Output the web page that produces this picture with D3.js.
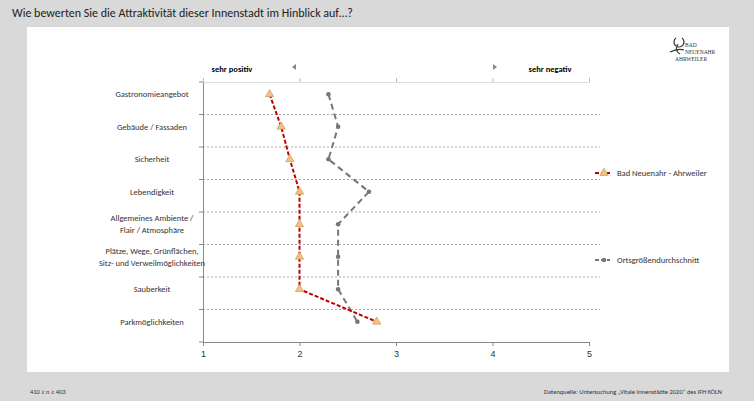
<!DOCTYPE html><html><head><meta charset="utf-8"><script src="https://cdn.jsdelivr.net/npm/d3@7"></script>
<style>body{margin:0;background:#d9d9d9}svg{font-family:Calibri,"Liberation Sans",Arial,sans-serif}</style></head><body><svg width="754" height="401"></svg><script>
const categories=["Gastronomieangebot","Gebäude / Fassaden","Sicherheit","Lebendigkeit","Allgemeines Ambiente / Flair / Atmosphäre","Plätze, Wege, Grünflächen, Sitz- und Verweilmöglichkeiten","Sauberkeit","Parkmöglichkeiten"];
const catLines=[["Gastronomieangebot"],["Gebäude / Fassaden"],["Sicherheit"],["Lebendigkeit"],["Allgemeines Ambiente /","Flair / Atmosphäre"],["Plätze, Wege, Grünflächen,","Sitz- und Verweilmöglichkeiten"],["Sauberkeit"],["Parkmöglichkeiten"]];
const badNeuenahr=[1.69,1.81,1.9,2.0,2.0,2.0,2.0,2.8];
const ortsgroesse=[2.3,2.4,2.3,2.72,2.4,2.4,2.4,2.6];
const xTicks=[1,2,3,4,5];
const svg=d3.select("svg");
svg.append("rect").attr("x",27).attr("y",27).attr("width",702).attr("height",345).attr("fill","#fff");
svg.append("text").attr("x",12).attr("y",17).attr("font-size",12).attr("fill","#222").text("Wie bewerten Sie die Attraktivität dieser Innenstadt im Hinblick auf…?");
const x=d3.scaleLinear().domain([1,5]).range([203,589]);
const y=d3.scaleBand().domain(categories).range([82,342]);
categories.slice(1).forEach(c=>svg.append("line").attr("x1",203).attr("x2",600).attr("y1",y(c)).attr("y2",y(c)).attr("stroke","#aaa").attr("stroke-dasharray","2,2"));
const gx=svg.append("g").attr("transform","translate(0,342)").call(d3.axisBottom(x).tickValues(xTicks).tickSize(4).tickFormat(d3.format("d")));
gx.select(".domain").attr("stroke","#888");gx.selectAll("line").attr("stroke","#888");gx.selectAll("text").attr("font-size",9).attr("dy","0.9em").attr("fill","#333");
const gt=svg.append("g").attr("transform","translate(0,82)").call(d3.axisTop(x).tickValues(xTicks).tickSize(4).tickFormat(""));
gt.select(".domain").attr("stroke","#ddd");gt.selectAll("line").attr("stroke","#bbb");
const gy=svg.append("g").attr("transform","translate(203,0)").call(d3.axisLeft(y).tickSize(0).tickFormat(""));
gy.select(".domain").attr("stroke","#888");
[82,...categories.slice(1).map(c=>y(c)),342].forEach(v=>svg.append("line").attr("x1",199).attr("x2",203).attr("y1",v).attr("y2",v).attr("stroke","#888"));
catLines.forEach((ls,i)=>{const cy=y(categories[i])+y.bandwidth()/2;ls.forEach((l,j)=>svg.append("text").attr("x",152).attr("y",cy-4+(j-(ls.length-1)/2)*12+3).attr("text-anchor","middle").attr("font-size",8.5).attr("fill","#333").text(l));});
svg.append("text").attr("x",232).attr("y",72).attr("text-anchor","middle").attr("font-size",8.5).attr("font-weight","bold").text("sehr positiv");
svg.append("text").attr("x",550).attr("y",72).attr("text-anchor","middle").attr("font-size",8.5).attr("font-weight","bold").text("sehr negativ");
svg.append("path").attr("d","M292,67 l4,-3 v6z").attr("fill","#888");
svg.append("path").attr("d","M497,67 l-4,-3 v6z").attr("fill","#888");
const cy=d=>y(d)+y.bandwidth()/2-4;
const line=d3.line().x(d=>x(d[1])).y(d=>cy(d[0]));
svg.append("path").datum(categories.map((c,i)=>[c,ortsgroesse[i]])).attr("d",line).attr("fill","none").attr("stroke","#777").attr("stroke-width",2).attr("stroke-dasharray","6,4");
svg.selectAll(".g").data(ortsgroesse).enter().append("circle").attr("cx",d=>x(d)).attr("cy",(d,i)=>cy(categories[i])).attr("r",2.3).attr("fill","#777");
svg.append("path").datum(categories.map((c,i)=>[c,badNeuenahr[i]])).attr("d",line).attr("fill","none").attr("stroke","#c00000").attr("stroke-width",2).attr("stroke-dasharray","4,2");
const tri=d3.symbol().type(d3.symbolTriangle).size(30);
svg.selectAll(".r").data(badNeuenahr).enter().append("path").attr("d",tri).attr("transform",(d,i)=>`translate(${x(d)},${cy(categories[i])})`).attr("fill","#f4c27a").attr("stroke","#c09050").attr("stroke-width",0.6);
svg.append("line").attr("x1",595).attr("x2",610).attr("y1",173).attr("y2",173).attr("stroke","#c00000").attr("stroke-width",2).attr("stroke-dasharray","4,2");
svg.append("path").attr("d",tri).attr("transform","translate(604,173)").attr("fill","#f4c27a").attr("stroke","#c09050").attr("stroke-width",0.6);
svg.append("text").attr("x",617).attr("y",176).attr("font-size",8.5).attr("fill","#333").text("Bad Neuenahr - Ahrweiler");
svg.append("line").attr("x1",595).attr("x2",610).attr("y1",260).attr("y2",260).attr("stroke","#777").attr("stroke-width",2).attr("stroke-dasharray","4,2");
svg.append("circle").attr("cx",604).attr("cy",260).attr("r",2.3).attr("fill","#777");
svg.append("text").attr("x",617).attr("y",263).attr("font-size",8.5).attr("fill","#333").text("Ortsgrößendurchschnitt");
svg.append("text").attr("x",685).attr("y",47).attr("font-size",5.5).attr("font-family","serif").attr("fill","#333").text("BAD");
svg.append("text").attr("x",685).attr("y",54).attr("font-size",5.5).attr("font-family","serif").attr("fill","#333").text("NEUENAHR");
svg.append("text").attr("x",675).attr("y",61).attr("font-size",5.5).attr("font-family","serif").attr("fill","#333").text("AHRWEILER");
svg.append("path").attr("d","M670,52 q8,-4 14,-2 M676,38 a5,5 0 1,0 6,0 M678,44 q-4,6 2,10").attr("fill","none").attr("stroke","#333").attr("stroke-width",1.2);
svg.append("text").attr("x",30).attr("y",394).attr("font-size",6.5).attr("fill","#333").text("410 ≥ n ≥ 403");
svg.append("text").attr("x",722).attr("y",394).attr("text-anchor","end").attr("font-size",6.5).attr("fill","#333").text("Datenquelle: Untersuchung „Vitale Innenstädte 2020“ des IFH KÖLN");
</script></body></html>
